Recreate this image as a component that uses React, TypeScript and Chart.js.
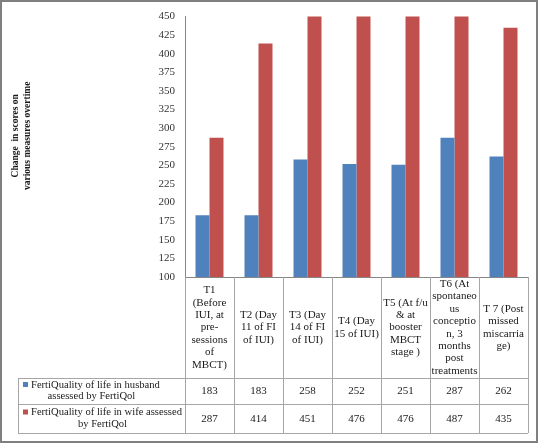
import React, { useEffect, useRef } from "react";
import { Chart, registerables } from "chart.js";

Chart.register(...registerables);

const categories: string[][] = [
  ["T1", "(Before", "IUI, at", "pre-", "sessions", "of", "MBCT)"],
  ["T2 (Day", "11 of FI", "of IUI)"],
  ["T3 (Day", "14 of FI", "of IUI)"],
  ["T4 (Day", "15 of IUI)"],
  ["T5 (At f/u", "& at", "booster", "MBCT", "stage )"],
  ["T6 (At", "spontaneo", "us", "conceptio", "n, 3", "months", "post", "treatments"],
  ["T 7 (Post", "missed", "miscarria", "ge)"],
];
const husbandValues = [183, 183, 258, 252, 251, 287, 262];
const wifeValues = [287, 414, 451, 476, 476, 487, 435];
const seriesLabels: string[][] = [
  ["FertiQuality of life in husband", "assessed by FertiQol"],
  ["FertiQuality of life in wife assessed", "by FertiQol"],
];
const seriesColors = ["#4F81BD", "#C0504D"];
const yMin = 100;
const yMax = 450;
const yStep = 25;
const yTitle = ["Change  in scores on", "various measures overtime"];

const FONT = '"Liberation Serif", "Times New Roman", serif';

const tablePlugin = {
  id: "dataTable",
  beforeDraw(chart: any) {
    const ctx = chart.ctx;
    ctx.save();
    ctx.fillStyle = "#ffffff";
    ctx.fillRect(0, 0, chart.width, chart.height);
    ctx.restore();
  },
  afterDraw(chart: any) {
    const ctx = chart.ctx;
    const area = chart.chartArea;
    const xs = chart.scales.x;
    const n = categories.length;
    const left = area.left;
    const right = area.right;
    const colW = (right - left) / n;
    const top = area.bottom;
    const headerBottom = top + 101;
    const row1Bottom = headerBottom + 26;
    const row2Bottom = row1Bottom + 29;
    const labelLeft = 18;

    ctx.save();
    ctx.strokeStyle = "#868686";
    ctx.lineWidth = 1;
    ctx.beginPath();
    ctx.moveTo(left, Math.round(top) + 0.5);
    ctx.lineTo(right, Math.round(top) + 0.5);
    ctx.stroke();

    ctx.strokeStyle = "#a6a6a6";
    ctx.beginPath();
    for (const y of [headerBottom, row1Bottom, row2Bottom]) {
      ctx.moveTo(labelLeft, Math.round(y) + 0.5);
      ctx.lineTo(right, Math.round(y) + 0.5);
    }
    for (let i = 0; i <= n; i++) {
      const x = Math.round(left + i * colW) + 0.5;
      ctx.moveTo(x, top);
      ctx.lineTo(x, row2Bottom);
    }
    ctx.moveTo(labelLeft + 0.5, headerBottom);
    ctx.lineTo(labelLeft + 0.5, row2Bottom);
    ctx.stroke();

    ctx.fillStyle = "#1a1a1a";
    ctx.font = `11px ${FONT}`;
    ctx.textAlign = "center";
    ctx.textBaseline = "middle";
    const lh = 12.4;
    const hc = (top + headerBottom) / 2;
    categories.forEach((lines, i) => {
      const cx = xs.getPixelForValue(i);
      const start = hc - ((lines.length - 1) * lh) / 2;
      lines.forEach((t, j) => ctx.fillText(t, cx, start + j * lh));
    });

    const rows = [husbandValues, wifeValues];
    const rowCenters = [(headerBottom + row1Bottom) / 2, (row1Bottom + row2Bottom) / 2];
    rows.forEach((vals, r) => {
      vals.forEach((v, i) => {
        ctx.fillText(String(v), xs.getPixelForValue(i), rowCenters[r] + 0.5);
      });
    });

    ctx.font = `10.6px ${FONT}`;
    seriesLabels.forEach((lines, r) => {
      const cy = rowCenters[r];
      const keyX = 23;
      const textX = 31;
      const y1 = cy - 6;
      const y2 = cy + 5.5;
      ctx.fillStyle = seriesColors[r];
      ctx.fillRect(keyX, y1 - 3, 5, 5);
      ctx.fillStyle = "#1a1a1a";
      ctx.textAlign = "left";
      ctx.fillText(lines[0], textX, y1);
      const w1 = ctx.measureText(lines[0]).width;
      const mid = (keyX + textX + w1) / 2;
      ctx.textAlign = "center";
      ctx.fillText(lines[1], mid, y2);
    });

    ctx.save();
    ctx.translate(22, (area.top + area.bottom) / 2 - 11);
    ctx.rotate(-Math.PI / 2);
    ctx.font = `bold 9.5px ${FONT}`;
    ctx.fillStyle = "#1a1a1a";
    ctx.textAlign = "center";
    ctx.textBaseline = "middle";
    ctx.fillText(yTitle[0], 0, -6.5);
    ctx.fillText(yTitle[1], 0, 6);
    ctx.restore();

    ctx.strokeStyle = "#7f7f7f";
    ctx.lineWidth = 2;
    ctx.strokeRect(1, 1, chart.width - 2, chart.height - 2);
    ctx.restore();
  },
};

export default function App() {
  const ref = useRef<HTMLCanvasElement>(null);
  useEffect(() => {
    document.body.style.margin = "0";
    const canvas = ref.current!;
    const chart = new Chart(canvas, {
      type: "bar",
      data: {
        labels: categories.map((c) => c.join(" ")),
        datasets: [
          {
            label: seriesLabels[0].join(" "),
            data: husbandValues,
            backgroundColor: seriesColors[0],
            categoryPercentage: 0.571,
            barPercentage: 1,
          },
          {
            label: seriesLabels[1].join(" "),
            data: wifeValues,
            backgroundColor: seriesColors[1],
            categoryPercentage: 0.571,
            barPercentage: 1,
          },
        ],
      },
      options: {
        responsive: false,
        animation: false,
        devicePixelRatio: 1,
        layout: { padding: { left: 135, top: 15, right: 10, bottom: 166 } },
        plugins: { legend: { display: false }, tooltip: { enabled: false } },
        scales: {
          x: { display: false },
          y: {
            min: yMin,
            max: yMax,
            afterFit: (s: any) => {
              s.width = 50;
            },
            grid: { display: false, drawTicks: false },
            border: { display: true, color: "#868686", width: 1 },
            ticks: {
              stepSize: yStep,
              padding: 10,
              color: "#333333",
              font: { family: FONT, size: 11 },
            },
          },
        },
      },
      plugins: [tablePlugin],
    });
    return () => chart.destroy();
  }, []);
  return (
    <div style={{ position: "absolute", left: 0, top: 0, width: 538, height: 443 }}>
      <canvas ref={ref} width={538} height={443} style={{ width: 538, height: 443 }} />
    </div>
  );
}
